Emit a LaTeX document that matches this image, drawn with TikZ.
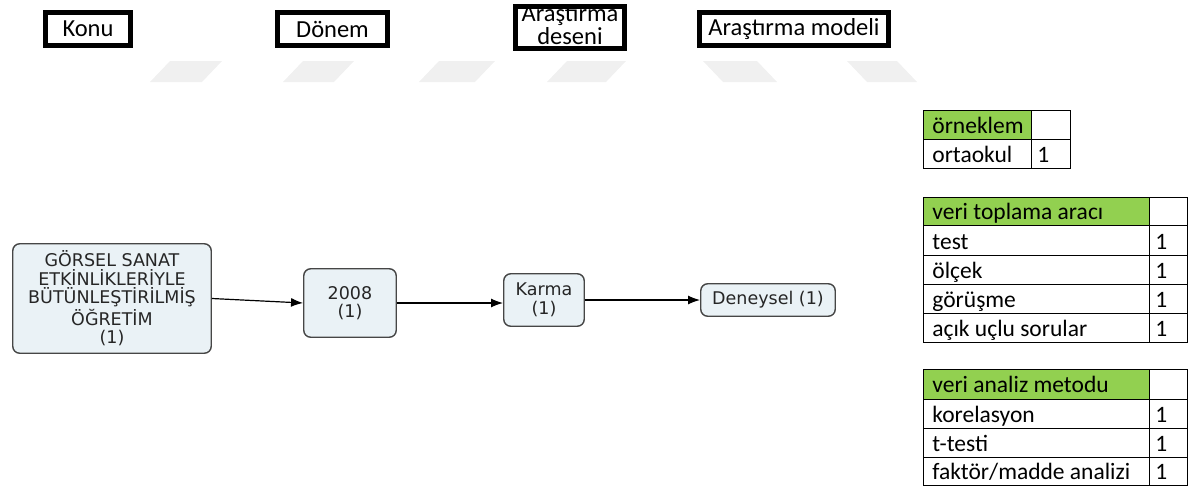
\documentclass[tikz,border=0pt]{standalone}
\usepackage{fontspec}
\setmainfont{Carlito}
\newfontfamily\verdanafont{DejaVu Sans}
\usepackage{tikz}
\usetikzlibrary{arrows.meta, positioning}
\definecolor{boxfill}{RGB}{234,242,246}
\definecolor{boxline}{RGB}{70,70,70}
\definecolor{headgreen}{RGB}{146,208,80}
\definecolor{wmgray}{RGB}{240,240,240}
\tikzset{
  >={Latex[length=6pt,width=4.5pt]},
  title/.style={draw=black,line width=2.4pt,inner sep=0,align=center,
    minimum height=16.6pt,font=\fontsize{12.25}{10.5}\selectfont},
  item/.style={draw=boxline,fill=boxfill,line width=0.7pt,rounded corners=3.5pt,
    inner sep=0,align=center,text=black!85,
    font=\verdanafont\fontsize{8.75}{9.25}\selectfont},
  connect arrow/.style={->,line width=0.6pt},
  grid/.style={draw=black,line width=0.5pt},
  cell/.style={anchor=base west,inner sep=0,font=\fontsize{11.75}{12}\selectfont},
  wmark/.style={fill=wmgray}
}

\begin{document}
\begin{tikzpicture}[x=0.5pt,y=-0.5pt]
  \useasboundingbox (0,0) rectangle (1194,488);

  % watermark stripes
  \foreach \bx/\w in {150/52,283/51,419/56,547/59}
    \fill[wmark] (\bx,82) -- (\bx+20,61) -- (\bx+20+\w,61) -- (\bx+\w,82) -- cycle;
  \foreach \tx/\w in {703/54,847/50}
    \fill[wmark] (\tx,61) -- (\tx+\w,61) -- (\tx+\w+20,82) -- (\tx+20,82) -- cycle;

  % column titles
  \node[title,minimum width=42.6pt] (konu) at (88,29) {Konu};
  \node[title,minimum width=55.1pt] (donem) at (332.5,29) {Dönem};
  \node[title,minimum width=54.6pt,minimum height=21.1pt,inner ysep=-3pt,
    text depth=2.5pt] (desen) at (570,27.5) {Araştırma\\deseni};
  \node[title,minimum width=94.6pt] (model) at (794,29) {Araştırma modeli};

  % flow
  \node[item,minimum width=99.25pt,minimum height=54.75pt] (subject) at (112,298.5)
    {GÖRSEL SANAT\\ETKİNLİKLERİYLE\\BÜTÜNLEŞTİRİLMİŞ\\ÖĞRETİM\\(1)};
  \node[item,minimum width=46.25pt,minimum height=34.25pt] (year) at (350,303) {2008\\(1)};
  \node[item,minimum width=40.25pt,minimum height=26.25pt] (design) at (544,300) {Karma\\(1)};
  \node[item,minimum width=67.25pt,minimum height=16.25pt] (modelbox) at (768,300) {Deneysel (1)};

  \draw[connect arrow] (subject.east) -- (year.west);
  \draw[connect arrow] (year.east) -- (design.west |- year.east);
  \draw[connect arrow] (design.east) -- (modelbox.west);

  % örneklem table
  \fill[headgreen] (923,110) rectangle (1031,139);
  \draw[grid] (923,110) rectangle (1070,168);
  \draw[grid] (923,139) -- (1070,139) (1031,110) -- (1031,168);
  \node[cell] (sample) at (932,133) {örneklem};
  \node[cell] (school) at (932,162) {ortaokul};
  \node[cell] (schooln) at (1037,162) {1};

  % veri toplama aracı table
  \fill[headgreen] (923,197) rectangle (1149,225);
  \draw[grid] (923,197) rectangle (1187,342);
  \draw[grid] (923,225) -- (1187,225) (923,255) -- (1187,255)
    (923,284) -- (1187,284) (923,313) -- (1187,313) (1149,197) -- (1149,342);
  \node[cell] (tool) at (932,219) {veri toplama aracı};
  \node[cell] (test) at (932,249) {test};
  \node[cell] (scale) at (932,278) {ölçek};
  \node[cell] (interview) at (932,307) {görüşme};
  \node[cell] (openq) at (932,336) {açık uçlu sorular};
  \node[cell] (testn) at (1155,249) {1};
  \node[cell] (scalen) at (1155,278) {1};
  \node[cell] (interviewn) at (1155,307) {1};
  \node[cell] (openqn) at (1155,336) {1};

  % veri analiz metodu table
  \fill[headgreen] (923,369) rectangle (1149,399);
  \draw[grid] (923,369) rectangle (1187,485);
  \draw[grid] (923,399) -- (1187,399) (923,428) -- (1187,428)
    (923,457) -- (1187,457) (1149,369) -- (1149,485);
  \node[cell] (method) at (932,392) {veri analiz metodu};
  \node[cell] (corr) at (932,422) {korelasyon};
  \node[cell] (ttest) at (932,451) {t-testi};
  \node[cell] (factor) at (932,479) {faktör/madde analizi};
  \node[cell] (corrn) at (1155,422) {1};
  \node[cell] (ttestn) at (1155,451) {1};
  \node[cell] (factorn) at (1155,479) {1};

\end{tikzpicture}
\end{document}
